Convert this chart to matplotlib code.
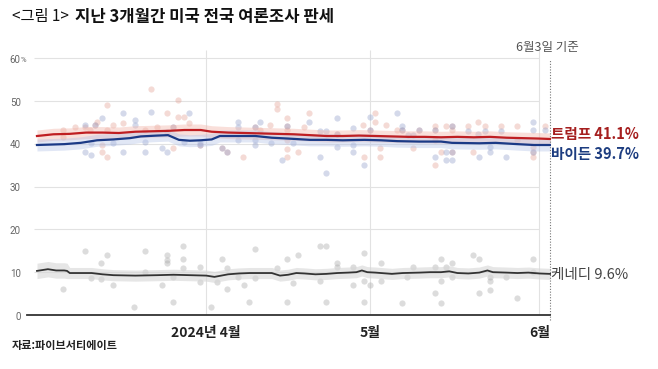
import numpy as np
import matplotlib
matplotlib.use('Agg')
import matplotlib.pyplot as plt

plt.rcParams['font.family'] = ['Noto Sans CJK KR', 'DejaVu Sans']

# days counted from 2024-03-01
tick_days = [31, 61, 92]
tick_labels = ['2024년 4월', '5월', '6월']

trump_days = [0, 3, 6, 9, 12, 15, 18, 21, 24, 27, 30, 32, 35, 38, 41, 44, 47, 50, 53, 56,
              59, 62, 65, 68, 71, 74, 77, 80, 83, 86, 89, 92, 94]
trump_line = [41.8, 42.2, 42.3, 42.6, 42.6, 42.5, 42.8, 42.9, 43.0, 43.2, 43.2, 42.8, 42.6,
              42.5, 42.4, 42.3, 42.2, 42.0, 41.8, 41.8, 41.9, 41.8, 41.7, 41.6, 41.6, 41.5,
              41.6, 41.5, 41.6, 41.4, 41.3, 41.2, 41.1]

biden_days = [0, 5, 8, 11, 14, 17, 19, 22, 24, 26, 28, 30, 32, 33.5, 36, 40, 43, 46, 50, 53,
              56, 60, 63, 66, 70, 74, 76, 81, 84, 88, 91, 94]
biden_line = [39.7, 39.9, 40.2, 40.8, 41.0, 41.3, 41.7, 41.9, 42.0, 40.9, 40.7, 40.8, 41.0,
              41.8, 41.8, 41.8, 41.4, 41.2, 40.9, 40.9, 40.8, 40.9, 40.8, 40.6, 40.5, 40.5,
              40.2, 40.1, 40.2, 39.9, 39.7, 39.7]

kennedy_days = [0, 2, 3.5, 5, 5.5, 6, 10, 12, 14, 18, 22, 25, 28, 31, 32.5, 35, 37, 39, 41,
                43, 44.5, 46, 47.5, 49, 51, 53, 55, 57, 58.5, 59.5, 60.5, 62, 63, 65, 67, 70,
                72, 74, 75.5, 77, 79, 81, 82.5, 83.5, 86, 88, 90, 92, 94]
kennedy_line = [10.3, 10.7, 10.4, 10.4, 10.3, 9.8, 9.8, 9.5, 9.3, 9.2, 9.3, 9.4, 9.3, 9.2,
                8.9, 9.5, 9.7, 9.8, 9.8, 9.8, 9.2, 9.4, 9.8, 9.7, 9.5, 9.6, 9.8, 9.9, 10.0,
                10.4, 10.0, 9.9, 9.8, 9.6, 9.8, 9.9, 10.0, 10.0, 10.2, 9.8, 9.7, 9.9, 10.4,
                10.0, 9.9, 9.8, 9.9, 9.7, 9.6]

trump_pt_day = [4.8, 4.8, 7, 8.8, 9.7, 10.6, 11, 11.9, 11.9, 12.8, 12.8, 12.8, 13.9, 15.8,
                19.8, 20.9, 22, 23.8, 23.8, 24.9, 24.9, 25.8, 25.8, 26.9, 27.8, 29.9, 33.9,
                34.8, 37.7, 39.9, 40.8, 42.7, 44, 44, 45.8, 45.8, 45.8, 45.8, 45.8, 45.8,
                47.8, 48.9, 49.8, 54.9, 59.7, 59.9, 61, 61.9, 61.9, 62.8, 62.8, 63.9, 65.9,
                66.8, 68.9, 70, 72.9, 72.9, 72.9, 72.9, 74, 74.9, 76, 76, 76, 78.9, 79.9,
                80.8, 82, 85, 87.9, 87.9, 90.8, 90.8, 90.8, 93]
trump_pt_val = [43.2, 41.6, 43.9, 43.9, 43.2, 44.4, 45.1, 39.7, 38.1, 49.1, 37.0, 43.2, 44.4,
                44.9, 43.2, 52.8, 43.9, 47.2, 42.8, 39.0, 43.9, 50.2, 46.3, 46.3, 44.9, 39.7,
                39.0, 38.1, 37.0, 43.9, 43.2, 44.4, 49.3, 48.1, 46.0, 44.2, 43.2, 40.9, 38.8,
                37.0, 38.1, 43.9, 47.2, 42.3, 44.4, 37.0, 43.2, 47.2, 45.1, 39.0, 37.0, 44.4,
                43.2, 43.2, 39.0, 43.2, 44.2, 43.2, 40.9, 35.0, 38.1, 44.2, 44.2, 43.2, 38.1,
                44.2, 38.1, 45.1, 44.2, 44.2, 44.2, 40.9, 39.3, 38.1, 37.0, 44.2]

biden_pt_day = [8.8, 8.8, 9.9, 9.9, 10.6, 11.9, 13.9, 15.8, 15.8, 17.9, 17.9, 19.8, 19.8,
                20.9, 22.9, 23.8, 24.9, 26.9, 27.8, 29.9, 29.9, 33.9, 34.8, 36.8, 36.8, 36.8,
                39.9, 39.9, 39.9, 40.8, 42.9, 44.9, 45.8, 46.9, 49.8, 51.8, 51.8, 52.9, 52.9,
                54.9, 54.9, 54.9, 57.9, 57.9, 57.9, 59.9, 61, 61, 65.9, 66.8, 66.8, 67.9,
                68.9, 70, 72.9, 72.9, 74.9, 74.9, 76, 76, 76, 78.9, 80.8, 81, 82, 83, 83, 85,
                85.9, 90.8, 90.8, 90.8, 93]
biden_pt_val = [44.4, 38.1, 37.4, 40.2, 44.4, 46.0, 40.2, 47.2, 38.1, 45.6, 44.4, 40.4, 38.1,
                47.4, 39.0, 38.1, 43.9, 40.4, 47.2, 39.7, 40.2, 39.0, 38.1, 45.1, 43.9, 40.9,
                43.9, 40.9, 39.7, 45.1, 40.2, 36.2, 44.2, 40.2, 45.1, 43.0, 37.0, 43.0, 33.2,
                46.0, 42.3, 39.3, 43.7, 39.7, 38.1, 35.0, 46.3, 43.2, 47.2, 44.2, 43.2, 42.1,
                42.1, 43.2, 43.2, 37.0, 38.1, 36.2, 44.2, 38.1, 36.2, 43.0, 42.3, 37.0, 43.0,
                39.3, 38.1, 43.0, 37.0, 45.1, 43.2, 38.1, 43.2]

kennedy_pt_day = [4.8, 8.8, 9.8, 11.8, 11.8, 12.8, 13.9, 17.8, 19.8, 19.8, 22.9, 23.8, 23.8,
                  23.8, 24.9, 24.9, 26.7, 26.7, 26.7, 29.9, 29.9, 31.9, 33, 33.9, 34.8, 34.8,
                  36.8, 37.9, 38.8, 39.9, 39.9, 44, 45.8, 45.8, 46.9, 47.8, 51.8, 51.8, 52.9,
                  52.9, 54.9, 54.9, 57.9, 57.9, 59.9, 59.9, 59.9, 61, 63, 63, 66.8, 67.8, 68.9,
                  72.9, 72.9, 74, 74, 74, 75, 76, 76, 79.9, 81, 81, 83, 83, 83, 85.9, 87.9,
                  90.8, 90.8]
kennedy_pt_val = [6.1, 15.0, 8.6, 12.1, 8.5, 14.0, 7.0, 1.9, 15.0, 10.0, 7.0, 14.0, 12.8, 12.1,
                  8.9, 3.0, 16.1, 13.1, 11.0, 11.2, 7.7, 1.9, 7.7, 13.1, 11.0, 6.1, 8.9, 7.0,
                  3.0, 15.4, 8.6, 11.0, 13.1, 3.0, 7.5, 14.0, 16.1, 7.9, 16.1, 3.0, 12.1, 11.2,
                  11.2, 7.0, 14.5, 7.9, 3.0, 7.0, 12.1, 7.9, 2.8, 8.9, 11.2, 11.2, 5.1, 13.1,
                  7.9, 2.8, 11.2, 12.1, 8.9, 14.0, 13.1, 5.1, 8.9, 7.9, 5.8, 8.9, 4.0, 13.1,
                  10.0]

W, H = 658, 369
fig = plt.figure(figsize=(W / 100, H / 100), dpi=100)
ax = fig.add_axes([27 / W, 1 - 315 / H, (551 - 27) / W, (315 - 49.5) / H])
ax.set_xlim(-1.83, 94.14)
ax.set_ylim(0, 62)
for s in ax.spines.values():
    s.set_visible(False)

ax.hlines(range(10, 70, 10), -0.55, 92, color='#e2e2e2', lw=0.8, zorder=0)
ax.vlines(tick_days, 0, 62, color='#e2e2e2', lw=0.8, zorder=0)

# scatter of individual polls
ax.scatter(kennedy_pt_day, kennedy_pt_val, s=20, color='#a9a9a9', alpha=0.4, lw=0, zorder=1)
ax.scatter(trump_pt_day, trump_pt_val, s=20, color='#e3a093', alpha=0.38, lw=0, zorder=1)
ax.scatter(biden_pt_day, biden_pt_val, s=20, color='#8e9cc8', alpha=0.38, lw=0, zorder=1)

# bands + averages
td, tv = np.array(trump_days), np.array(trump_line)
bd, bv = np.array(biden_days), np.array(biden_line)
kd, kv = np.array(kennedy_days), np.array(kennedy_line)
ax.fill_between(td, tv - 1.4, tv + 1.4, color='#f2b8ad', alpha=0.45, lw=0, zorder=2)
ax.fill_between(bd, bv - 1.4, bv + 1.4, color='#b4c3e8', alpha=0.4, lw=0, zorder=2)
kw = np.where(kd < 6, 1.8, 1.3)
ax.fill_between(kd, kv - kw, kv + kw, color='#d6d6d6', alpha=0.6, lw=0, zorder=2)
ax.plot(td, tv, color='#bf1e22', lw=1.6, zorder=3)
ax.plot(bd, bv, color='#1b3a86', lw=1.6, zorder=3)
ax.plot(kd, kv, color='#333333', lw=1.3, zorder=3)

# baseline and "as of" marker
ax.plot([-1.83, 94], [0, 0], color='#333333', lw=1.3, clip_on=False, zorder=4)
ax.vlines(94, -1.2, 59.5, color='#777777', lw=0.8, linestyles=(0, (1, 1.5)), clip_on=False)

ax.set_yticks([])
ax.set_xticks(tick_days)
ax.set_xticklabels(tick_labels, fontsize=10, fontweight='bold', color='#222222')
ax.tick_params(axis='x', length=0, pad=8)

for v in range(0, 70, 10):
    ax.text(-3.0, v - 0.4, str(v), ha='right', va='center', fontsize=7,
            family='Roboto', color='#666666')
ax.text(-3.0, 59.6, '%', ha='left', va='center', fontsize=5.5, family='Roboto', color='#666666')


def px(x, y):
    return x / W, 1 - y / H


fig.text(*px(12, 17), '<그림 1>', fontsize=11, va='center', color='#111111')
fig.text(*px(75, 17), '지난 3개월간 미국 전국 여론조사 판세', fontsize=12,
         fontweight='bold', va='center', color='#111111')
fig.text(*px(516, 47), '6월3일 기준', fontsize=9, va='center', color='#555555')
fig.text(*px(551, 134), '트럼프 41.1%', fontsize=10.5, fontweight='bold', va='center',
         color='#a51f1f')
fig.text(*px(551, 154), '바이든 39.7%', fontsize=10.5, fontweight='bold', va='center',
         color='#1d3d80')
fig.text(*px(551, 275), '케네디 9.6%', fontsize=10.5, va='center', color='#444444')
fig.text(*px(12, 345), '자료:파이브서티에이트', fontsize=8, fontweight='bold', va='center',
         color='#222222')

fig.savefig('out.png', dpi=100)
